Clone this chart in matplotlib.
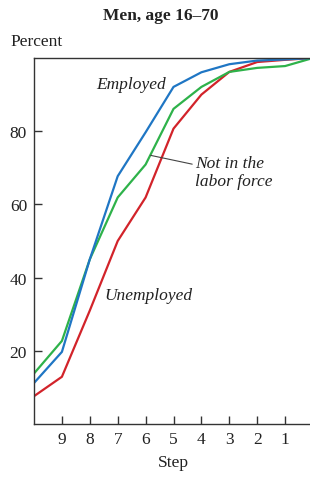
import numpy as np
import matplotlib.pyplot as plt

plt.rcParams['font.family'] = ['Liberation Serif', 'DejaVu Serif']

# datos
steps = [10, 9, 8, 7, 6, 5, 4, 3, 2, 1, 0]
employed = [11.2, 19.7, 45.0, 67.7, 79.7, 92.1, 96.1, 98.3, 99.3, 99.6, 100]
not_in_lf = [13.8, 22.7, 45.0, 61.9, 70.9, 86.1, 92.1, 96.2, 97.3, 97.8, 100]
unemployed = [7.6, 12.9, 31.0, 50.0, 61.9, 80.7, 90.0, 96.2, 98.9, 99.5, 100]
yticks = [20, 40, 60, 80]
xticks = [9, 8, 7, 6, 5, 4, 3, 2, 1]

fig = plt.figure(figsize=(3.10, 4.81), dpi=100)
ax = fig.add_axes([34/310, 56/481, 279/310, 366/481])

ax.plot(steps, unemployed, color='#d2232a', lw=1.6)
ax.plot(steps, not_in_lf, color='#2eb24a', lw=1.6)
ax.plot(steps, employed, color='#1f76c4', lw=1.6)

ax.set_xlim(10, 0)
ax.set_ylim(0, 100)
ax.set_xticks(xticks)
ax.set_yticks(yticks)
ax.tick_params(direction='in', length=6, width=1, colors='#333333',
               labelsize=12.5, labelcolor='#222222', pad=5)
ax.spines['right'].set_visible(False)
for s in ['left', 'top', 'bottom']:
    ax.spines[s].set_color('#333333')
    ax.spines[s].set_linewidth(1)

ax.text(7.78, 93.0, 'Employed', style='italic', fontsize=12.5,
        ha='left', va='center', color='#222222')
ax.text(7.46, 35.3, 'Unemployed', style='italic', fontsize=12.5,
        ha='left', va='center', color='#222222')
ax.annotate('Not in the\nlabor force', xy=(5.82, 73.4), xytext=(4.23, 68.8),
            style='italic', fontsize=12.5, ha='left', va='center',
            linespacing=1.15, color='#222222',
            arrowprops=dict(arrowstyle='-', color='#444444', lw=0.8,
                            shrinkA=0, shrinkB=0, relpos=(0, 0.72)))

fig.text(160.8/310, 1 - 16/481, 'Men, age 16–70', fontsize=12.5,
         fontweight='bold', ha='center', va='center', color='#222222')
fig.text(10/310, 1 - 42/481, 'Percent', fontsize=12.5,
         ha='left', va='center', color='#222222')
fig.text(173/310, 1 - 463/481, 'Step', fontsize=12.5,
         ha='center', va='center', color='#222222')

plt.savefig('out.png', dpi=100)
